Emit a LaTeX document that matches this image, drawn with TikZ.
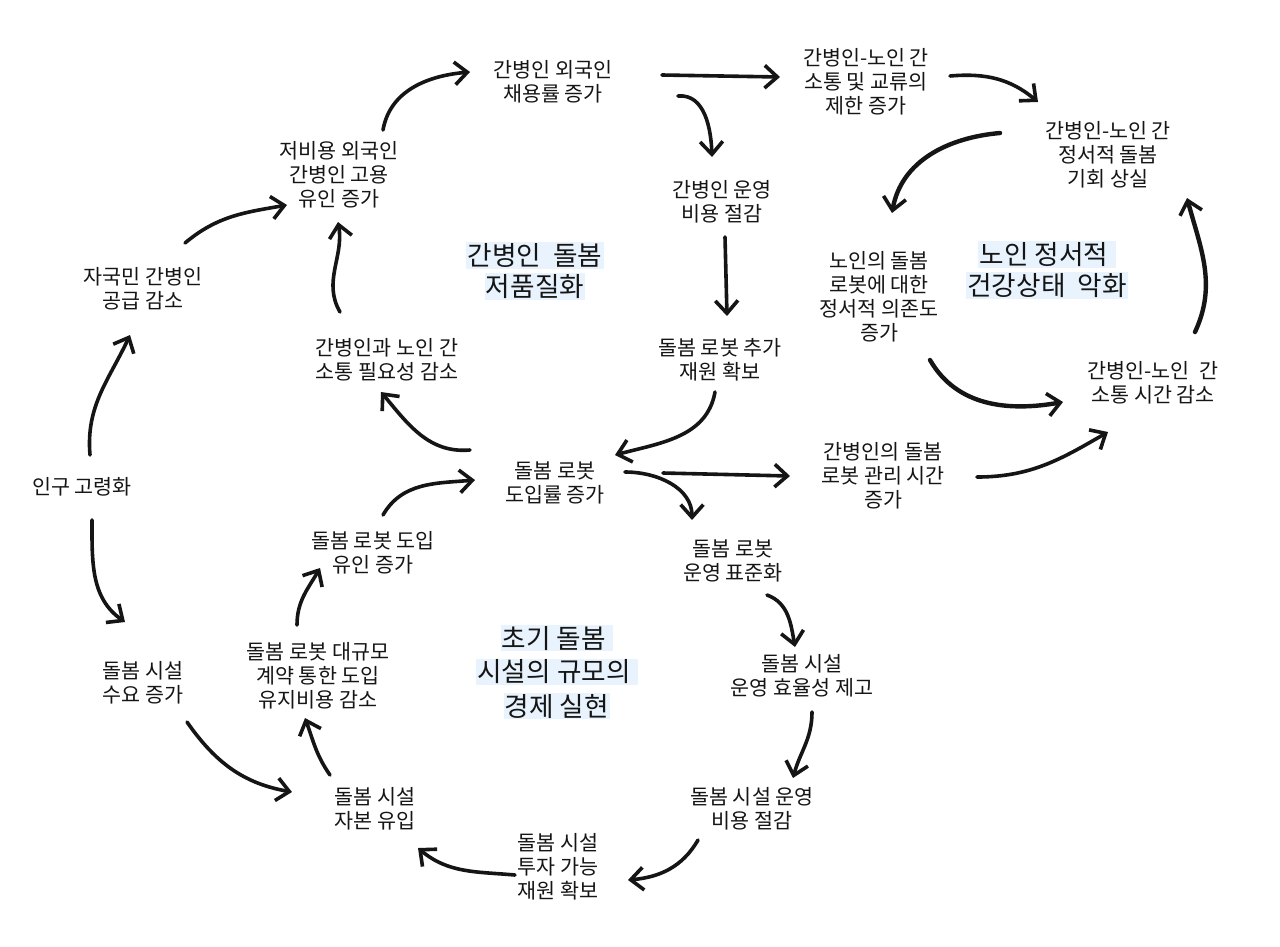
\documentclass[tikz,border=0pt]{standalone}
\usepackage{fontspec}
\setmainfont{Noto Sans CJK KR}
\usetikzlibrary{arrows.meta,calc}
\definecolor{hl}{HTML}{E8F3FD}
\definecolor{ink}{HTML}{151515}
\newcommand\hlx[1]{{\setlength{\fboxsep}{1pt}\colorbox{hl}{#1}}}
\tikzset{
  lbl/.style={align=center, text=ink, font=\fontsize{15.5}{18}\selectfont, inner sep=1pt},
  ttl/.style={align=center, text=ink, font=\fontsize{20}{23.5}\selectfont, inner sep=0pt},
  arr/.style={draw=ink, line width=2.7pt, line cap=round, line join=round,
    -{Straight Barb[length=9.5pt,width=17pt,line width=2.7pt]}},
  thick arr/.style={arr, line width=3.3pt},
}
\begin{document}
\begin{tikzpicture}[x=0.75pt,y=-0.75pt]
\useasboundingbox (0,0) rectangle (1280,946);
\fill[white] (0,0) rectangle (1280,946);

% nodes
\node[lbl] (hire) at (553,82) {간병인 외국인\\채용률 증가};
\node[lbl] (limit) at (866,82) {간병인-노인 간\\소통 및 교류의\\제한 증가};
\node[lbl] (lost) at (1108,155) {간병인-노인 간\\정서적 돌봄\\기회 상실};
\node[lbl] (cost) at (722,202) {간병인 운영\\비용 절감};
\node[lbl] (lowcost) at (339,175) {저비용 외국인\\간병인 고용\\유인 증가};
\node[lbl] (domestic) at (143,289) {자국민 간병인\\공급 감소};
\node[ttl] (t1) at (535,271) {\hlx{간병인 \ 돌봄}\\\hlx{저품질화}};
\node[lbl] (depend) at (879,297) {노인의 돌봄\\로봇에 대한\\정서적 의존도\\증가};
\node[ttl] (t2) at (1047,270) {\hlx{노인 정서적 }\\\hlx{건강상태 \ 악화}};
\node[lbl] (needless) at (387,360) {간병인과 노인 간\\소통 필요성 감소};
\node[lbl] (fund) at (720,360) {돌봄 로봇 추가\\재원 확보};
\node[lbl] (commtime) at (1153,383) {간병인-노인 \ 간\\소통 시간 감소};
\node[lbl] (aging) at (82,487) {인구 고령화};
\node[lbl] (adopt) at (555,483) {돌봄 로봇\\도입률 증가};
\node[lbl] (mgmt) at (883,476) {간병인의 돌봄\\로봇 관리 시간\\증가};
\node[lbl] (incent) at (373,553) {돌봄 로봇 도입\\유인 증가};
\node[lbl] (std) at (733,561) {돌봄 로봇\\운영 표준화};
\node[ttl, font=\fontsize{20}{25.5}\selectfont] (t3) at (557,672) {\hlx{초기 돌봄 }\\\hlx{시설의 규모의 }\\\hlx{경제 실현}};
\node[lbl] (bulk) at (318,676) {돌봄 로봇 대규모\\계약 통한 도입\\유지비용 감소};
\node[lbl] (demand) at (143,683) {돌봄 시설\\수요 증가};
\node[lbl] (eff) at (802,676) {돌봄 시설\\운영 효율성 제고};
\node[lbl] (capital) at (375,809) {돌봄 시설\\자본 유입};
\node[lbl] (opcost) at (752,809) {돌봄 시설 운영\\비용 절감};
\node[lbl] (invest) at (558,867) {돌봄 시설\\투자 가능\\재원 확보};

% connectors
\draw[arr] ($(aging)+(8,-32)$) to[out=95,in=245] ($(domestic)+(-13,46)$);
\draw[arr] ($(aging)+(10,33)$) to[out=-90,in=145] ($(demand)+(-18,-61)$);
\draw[arr] ($(domestic)+(42,-46)$) to[out=40,in=190] ($(lowcost)+(-52,30)$);
\draw[arr] ($(demand)+(44,39)$) to[out=-55,in=170] ($(capital)+(-83,-17)$);
\draw[arr] ($(capital)+(-45,-34)$) to[out=125,in=-70] ($(bulk)+(-13,42)$);
\draw[arr] ($(bulk)+(-21,-51)$) to[out=90,in=-120] ($(incent)+(-53,15)$);
\draw[arr] ($(incent)+(10,-38)$) to[out=60,in=185] ($(adopt)+(-80,-3)$);
\draw[arr] ($(adopt)+(-85,-33)$) to[out=185,in=-50] ($(needless)+(-6,32)$);
\draw[arr] ($(needless)+(-47,-48)$) to[out=120,in=-80] ($(lowcost)+(-1,47)$);
\draw[arr] ($(lowcost)+(44,-45)$) to[out=80,in=185] ($(hire)+(-83,-10)$);
\draw[arr] ($(hire)+(109,-7)$) -- ($(limit)+(-86,-5)$);
\draw[arr] ($(hire)+(125,14)$) to[out=5,in=92] ($(cost)+(-10,-45)$);
\draw[arr] ($(limit)+(84,-6)$) to[out=5,in=140] ($(lost)+(-70,-53)$);
\draw[thick arr] ($(lost)+(-108,-22)$) to[out=185,in=80] ($(depend)+(13,-84)$);
\draw[arr] ($(cost)+(3,35)$) -- ($(fund)+(7,-44)$);
\draw[arr] ($(fund)+(-5,32)$) to[out=-100,in=15] ($(adopt)+(60,-28)$);
\draw[arr] ($(adopt)+(108,-10)$) -- ($(mgmt)+(-93,0)$);
\draw[arr] ($(adopt)+(70,-11)$) to[out=0,in=90] ($(std)+(-41,-41)$);
\draw[arr] ($(mgmt)+(94,1)$) to[out=0,in=210] ($(commtime)+(-45,49)$);
\draw[thick arr] ($(depend)+(51,63)$) to[out=-60,in=190] ($(commtime)+(-90,19)$);
\draw[thick arr] ($(commtime)+(42,-51)$) to[out=65,in=-75] ($(lost)+(79,43)$);
\draw[arr] ($(std)+(34,34)$) to[out=-20,in=100] ($(eff)+(-7,-29)$);
\draw[arr] ($(eff)+(10,36)$) to[out=-90,in=75] ($(opcost)+(41,-31)$);
\draw[arr] ($(opcost)+(-54,31)$) to[out=-120,in=5] ($(invest)+(70,13)$);
\draw[arr] ($(invest)+(-43,8)$) to[out=175,in=-40] ($(capital)+(43,39)$);
\end{tikzpicture}
\end{document}
